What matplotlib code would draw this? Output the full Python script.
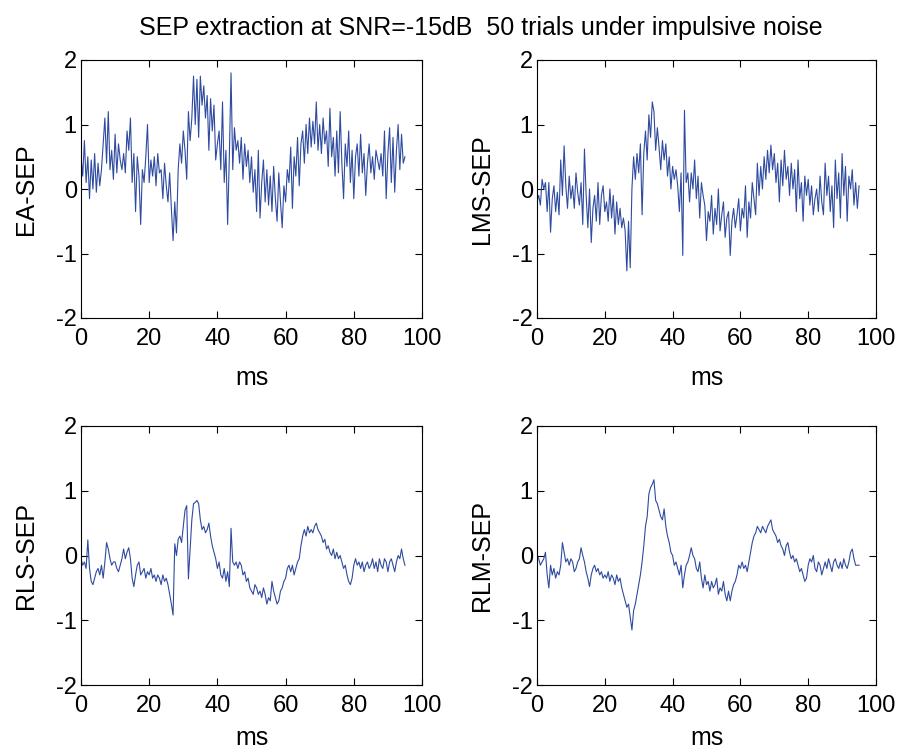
import numpy as np
import matplotlib
matplotlib.use("Agg")
import matplotlib.pyplot as plt

plt.rcParams['font.family'] = ['Liberation Sans', 'DejaVu Sans']
plt.rcParams['axes.unicode_minus'] = False

# time axis (ms), 0.5 ms steps
t = np.arange(0, 95.5, 0.5)

ea_sep = [
    0.5, 0.2, 0.75, 0.1, 0.5, -0.15, 0.45, 0.0, 0.55, -0.05,
    0.4, 0.05, 0.3, 0.7, 1.1, 0.4, 1.2, 0.3, 0.6, 0.15,
    0.85, 0.25, 0.7, 0.45, 0.3, 0.55, 0.25, 0.9, 0.6, 1.1,
    0.1, 0.55, -0.35, 0.5, 0.2, -0.55, 0.3, 0.1, 0.5, 1.0,
    0.1, 0.45, 0.2, 0.5, 0.05, 0.55, 0.25, 0.3, -0.15, 0.4,
    0.05, -0.2, 0.25, -0.3, -0.8, -0.2, -0.68, 0.3, 0.7, 0.4,
    0.9, 0.6, 0.15, 1.2, 0.75, 1.1, 1.75, 1.0, 1.7, 0.8,
    1.75, 1.3, 1.6, 1.1, 1.45, 0.6, 1.4, 0.9, 1.3, 0.45,
    0.7, 0.9, 0.3, 1.35, 0.1, 0.6, -0.55, 0.5, 1.8, 0.3,
    0.95, 0.6, 0.75, 0.4, 0.8, 0.15, 0.7, 0.35, 0.6, 0.1,
    0.5, -0.05, 0.3, -0.35, 0.6, -0.45, 0.1, 0.45, -0.2, 0.3,
    -0.25, 0.2, -0.35, 0.35, -0.15, -0.5, 0.25, -0.2, -0.6, 0.05,
    -0.2, 0.3, 0.1, 0.65, -0.3, 0.5, 0.2, 0.8, 0.05, 0.7,
    0.9, 0.4, 1.0, 0.55, 1.1, 0.65, 1.05, 0.7, 1.35, 0.6,
    1.0, 0.55, 1.1, 0.7, 0.9, 0.35, 1.25, 0.5, 0.8, 0.2,
    0.9, 0.25, 1.2, 0.4, -0.15, 0.7, 0.35, 0.9, 0.1, 0.6,
    -0.15, 0.5, 0.7, 0.2, 0.85, 0.25, 0.55, -0.1, 0.4, 0.7,
    0.25, 0.5, 0.15, 0.6, 0.45, 0.3, 0.55, 0.2, 0.9, -0.15,
    0.55, 0.95, 0.1, 0.8, -0.05, 0.6, 1.0, 0.3, 0.85, 0.4,
    0.5,
]

lms_sep = [
    -0.2, -0.1, -0.25, 0.15, 0.0, 0.1, -0.35, 0.1, -0.67, -0.15,
    0.05, -0.35, -0.05, -0.4, 0.45, -0.1, 0.67, 0.05, -0.3, 0.2,
    -0.15, 0.05, -0.3, 0.25, -0.05, -0.25, 0.1, -0.55, 0.62, -0.1,
    -0.6, 0.0, -0.83, -0.3, -0.1, -0.5, 0.1, -0.55, -0.1, 0.05,
    -0.35, -0.2, -0.5, 0.0, -0.45, -0.1, -0.7, -0.2, -0.55, -0.3,
    -0.6, -0.45, -0.65, -1.27, -0.5, -1.22, 0.0, 0.5, 0.15, 0.55,
    0.25, 0.7, -0.4, 0.55, 0.9, 0.45, 1.15, 0.8, 1.35, 1.2,
    0.6, 0.95, 0.65, 0.3, 0.75, 0.45, 0.7, 0.2, 0.5, 0.0,
    0.35, 0.15, 0.3, 0.05, -0.35, 0.25, -1.03, 1.22, 0.1, 0.25,
    -0.2, 0.25, 0.0, 0.45, -0.15, 0.2, -0.45, 0.1, -0.1, -0.25,
    -0.8, -0.35, -0.5, -0.1, -0.7, -0.3, -0.55, 0.0, -0.65, -0.4,
    -0.2, -0.75, -0.45, -0.35, -1.03, -0.5, -0.3, -0.6, -0.4, -0.15,
    -0.65, -0.3, -0.45, 0.05, -0.75, -0.2, -0.45, 0.1, -0.15, -0.4,
    0.4, -0.1, 0.35, 0.0, 0.5, 0.15, 0.6, 0.25, 0.68, 0.3,
    0.55, 0.1, 0.4, -0.2, 0.45, 0.05, 0.6, 0.15, 0.35, -0.1,
    0.4, 0.0, 0.3, -0.35, 0.45, -0.15, 0.1, -0.5, 0.2, -0.1,
    0.15, -0.25, 0.05, -0.4, -0.15, 0.0, -0.35, 0.2, -0.2, -0.4,
    0.4, -0.1, 0.2, -0.35, 0.05, -0.6, 0.45, -0.15, 0.25, -0.45,
    0.55, -0.1, 0.35, -0.5, 0.2, 0.0, 0.3, -0.25, 0.1, -0.3,
    0.05,
]

rls_sep = [
    -0.05, -0.15, -0.1, -0.2, 0.24, -0.2, -0.4, -0.45, -0.35, -0.25,
    -0.2, -0.3, -0.15, -0.35, -0.1, 0.2, 0.1, -0.05, -0.15, -0.1,
    -0.1, -0.2, -0.25, -0.15, -0.05, 0.1, -0.05, 0.05, 0.12, -0.05,
    -0.35, -0.48, -0.3, -0.15, -0.1, -0.3, -0.25, -0.2, -0.35, -0.25,
    -0.3, -0.2, -0.35, -0.3, -0.4, -0.3, -0.35, -0.45, -0.3, -0.4,
    -0.35, -0.45, -0.6, -0.75, -0.92, 0.18, 0.0, 0.25, 0.3, 0.2,
    0.45, 0.7, 0.77, -0.36, 0.1, 0.55, 0.8, 0.82, 0.85, 0.8,
    0.55, 0.4, 0.45, 0.35, 0.4, 0.5, 0.3, 0.15, 0.05, -0.05,
    -0.2, -0.1, -0.3, -0.35, -0.2, -0.4, -0.25, -0.48, 0.42, -0.1,
    -0.15, -0.1, -0.2, -0.1, -0.15, -0.3, -0.25, -0.4, -0.35, -0.5,
    -0.55, -0.6, -0.45, -0.5, -0.6, -0.55, -0.65, -0.5, -0.6, -0.75,
    -0.65, -0.7, -0.4, -0.55, -0.65, -0.75, -0.7, -0.55, -0.5, -0.4,
    -0.35, -0.2, -0.15, -0.25, -0.15, -0.3, -0.2, -0.1, -0.05, 0.15,
    0.3, 0.4, 0.3, 0.45, 0.35, 0.4, 0.35, 0.45, 0.5, 0.4,
    0.35, 0.3, 0.2, 0.25, 0.1, 0.15, 0.05, 0.0, 0.1, -0.05,
    0.05, -0.05, 0.0, -0.1, -0.2, -0.15, -0.3, -0.4, -0.45, -0.35,
    -0.15, -0.05, -0.15, -0.1, -0.2, -0.1, -0.25, -0.15, -0.1, -0.2,
    -0.15, -0.05, -0.2, -0.1, -0.25, -0.05, -0.15, -0.2, -0.05, -0.1,
    -0.25, -0.1, -0.05, -0.15, -0.25, -0.1, 0.0, -0.05, 0.1, -0.05,
    -0.15,
]

rlm_sep = [
    0.0, -0.05, -0.15, -0.1, -0.05, 0.05, -0.3, -0.5, -0.15, -0.3,
    -0.2, -0.35, -0.25, -0.3, -0.15, 0.2, 0.05, -0.1, -0.05, -0.15,
    -0.05, -0.1, -0.25, -0.2, -0.1, -0.05, 0.12, 0.0, -0.1, -0.25,
    -0.35, -0.48, -0.3, -0.2, -0.15, -0.25, -0.2, -0.3, -0.25, -0.35,
    -0.3, -0.35, -0.25, -0.4, -0.3, -0.35, -0.45, -0.3, -0.4, -0.35,
    -0.5, -0.6, -0.7, -0.8, -0.75, -0.95, -1.15, -0.85, -0.75, -0.6,
    -0.45, -0.3, -0.1, 0.15, 0.45, 0.6, 0.95, 1.05, 1.1, 1.17,
    0.85, 0.8, 0.7, 0.6, 0.55, 0.72, 0.45, 0.3, 0.2, 0.05,
    0.0, -0.15, -0.1, -0.2, -0.3, -0.15, -0.5, -0.3, -0.15, -0.1,
    0.0, 0.12, 0.0, -0.05, -0.2, -0.25, -0.1, -0.35, -0.5, -0.3,
    -0.45, -0.4, -0.55, -0.4, -0.5, -0.45, -0.35, -0.6, -0.5, -0.55,
    -0.4, -0.6, -0.7, -0.55, -0.7, -0.55, -0.45, -0.4, -0.3, -0.15,
    -0.2, -0.1, -0.2, -0.15, -0.25, -0.1, 0.05, 0.2, 0.3, 0.35,
    0.45, 0.4, 0.35, 0.45, 0.4, 0.35, 0.45, 0.5, 0.55, 0.4,
    0.35, 0.3, 0.2, 0.25, 0.15, 0.1, 0.0, 0.15, 0.2, 0.05,
    -0.05, 0.0, -0.1, -0.05, -0.15, -0.25, -0.2, -0.3, -0.4, -0.35,
    -0.15, -0.05, -0.1, 0.0, -0.2, -0.25, -0.1, -0.15, -0.3, -0.2,
    -0.1, -0.2, -0.05, -0.15, -0.25, -0.1, -0.05, -0.15, -0.2, -0.1,
    -0.2, -0.05, -0.15, -0.2, -0.1, 0.05, 0.1, -0.05, -0.15, -0.15,
    -0.15,
]

names = ["EA-SEP", "LMS-SEP", "RLS-SEP", "RLM-SEP"]
series = [ea_sep, lms_sep, rls_sep, rlm_sep]

W, H = 901, 752
fig = plt.figure(figsize=(W / 100, H / 100), dpi=100)

# axes boxes in pixels: left, top, right, bottom
boxes = [(81, 60, 422, 318), (537, 60, 876, 318),
         (81, 426, 422, 685), (537, 426, 876, 685)]
xpads = [12, 12, 7, 7]

for (l, tp, r, b), name, y, xp in zip(boxes, names, series, xpads):
    ax = fig.add_axes([l / W, 1 - b / H, (r - l) / W, (b - tp) / H])
    ax.plot(t, y, color="#2f4ba0", lw=0.8)
    ax.set_xlim(0, 100)
    ax.set_ylim(-2, 2)
    ax.set_xticks([0, 20, 40, 60, 80, 100])
    ax.set_yticks([-2, -1, 0, 1, 2])
    ax.tick_params(direction="in", top=True, right=True, labelsize=17,
                   length=5, width=0.8)
    ax.tick_params(axis="x", pad=7)
    ax.tick_params(axis="y", pad=3)
    ax.set_xlabel("ms", fontsize=18, labelpad=xp)
    ax.set_ylabel(name, fontsize=18, labelpad=13)
    for s in ax.spines.values():
        s.set_linewidth(0.8)

fig.text(481 / W, 1 - 28 / H, "SEP extraction at SNR=-15dB  50 trials under impulsive noise",
         ha="center", va="center", fontsize=18)

fig.savefig("out.png", dpi=100)
